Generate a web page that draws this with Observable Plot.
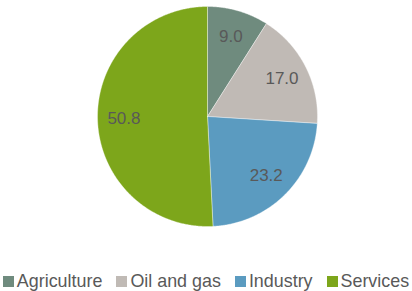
<!DOCTYPE html>
<html>
<head>
<meta charset="utf-8">
<script src="https://cdn.jsdelivr.net/npm/d3@7"></script>
<script src="https://cdn.jsdelivr.net/npm/@observablehq/plot@0.6"></script>
<style>
  html, body { margin: 0; padding: 0; background: #fff; }
  body { width: 412px; height: 291px; overflow: hidden; font-family: "Liberation Sans", Arial, sans-serif; }
  #legend { display: flex; justify-content: center; align-items: center; height: 22px; margin-top: 20px; font-size: 17.9px; color: #595959; }
  .item { display: flex; align-items: center; margin: 0 7px; white-space: nowrap; }
  .sw { width: 11px; height: 11px; margin-right: 3px; }
</style>
</head>
<body>
<div id="chart"></div>
<div id="legend"></div>
<script>
const categories = ["Agriculture", "Oil and gas", "Industry", "Services"];
const values = [9.0, 17.0, 23.2, 50.8];
const labels = ["9.0", "17.0", "23.2", "50.8"];
const colors = ["#6f8b7e", "#c0bab5", "#5b9bc0", "#7da61b"];

const total = d3.sum(values);
const slices = [];
const labelPts = [];
let acc = 0;
categories.forEach((c, i) => {
  const a0 = acc / total * 2 * Math.PI;
  acc += values[i];
  const a1 = acc / total * 2 * Math.PI;
  const pts = [{cat: c, x: 0, y: 0}];
  const n = Math.max(2, Math.ceil((a1 - a0) / (Math.PI / 360)));
  for (let k = 0; k <= n; k++) {
    const a = a0 + (a1 - a0) * k / n;
    pts.push({cat: c, x: Math.sin(a), y: Math.cos(a)});
  }
  pts.push({cat: c, x: 0, y: 0});
  slices.push(...pts);
  const am = (a0 + a1) / 2;
  labelPts.push({cat: c, label: labels[i], x: 0.76 * Math.sin(am), y: 0.76 * Math.cos(am)});
});

const plot = Plot.plot({
  width: 412,
  height: 250,
  margin: 0,
  x: {domain: [-1, 1], range: [97, 317], axis: null},
  y: {domain: [-1, 1], range: [226, 6], axis: null},
  color: {domain: categories, range: colors},
  marks: [
    Plot.line(slices, {x: "x", y: "y", z: "cat", fill: "cat", stroke: "#ffffff", strokeWidth: 0.75, strokeOpacity: 0.5, curve: "linear-closed"}),
    Plot.text(labelPts, {x: "x", y: "y", text: "label", fill: "#595959", fontSize: 17, fontFamily: "Liberation Sans, Arial, sans-serif"})
  ]
});
document.getElementById("chart").appendChild(plot);

const leg = document.getElementById("legend");
categories.forEach((c, i) => {
  const it = document.createElement("div");
  it.className = "item";
  const sw = document.createElement("span");
  sw.className = "sw";
  sw.style.background = colors[i];
  const t = document.createElement("span");
  t.textContent = c;
  it.appendChild(sw);
  it.appendChild(t);
  leg.appendChild(it);
});
</script>
</body>
</html>
